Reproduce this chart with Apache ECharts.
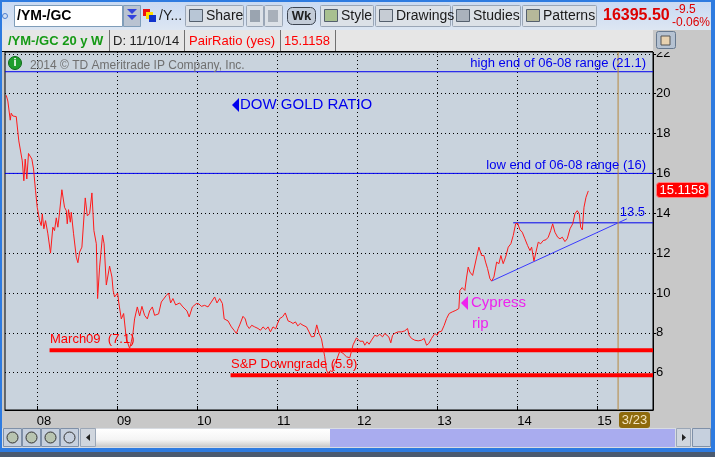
<!DOCTYPE html>
<html>
<head>
<meta charset="utf-8">
<title>/YM-/GC Dow Gold Ratio</title>
<script src="https://cdn.jsdelivr.net/npm/echarts@6/dist/echarts.min.js"></script>
<style>
  html, body { margin: 0; padding: 0; background: #c8c8c8; overflow: hidden; }
  #main { width: 715px; height: 457px; }
</style>
</head>
<body>
<div id="main"></div>
<script>
// weekly /YM / /GC pair ratio
var weeks = [
  2007.618, 2007.638, 2007.668, 2007.680, 2007.700, 2007.721, 2007.743, 2007.763, 2007.775, 2007.796,
  2007.818, 2007.838, 2007.855, 2007.875, 2007.896, 2007.918, 2007.938, 2007.959, 2007.984, 2008.005,
  2008.034, 2008.055, 2008.068, 2008.088, 2008.109, 2008.138, 2008.171, 2008.200, 2008.221, 2008.243,
  2008.263, 2008.284, 2008.313, 2008.346, 2008.368, 2008.380, 2008.396, 2008.418, 2008.430, 2008.459,
  2008.493, 2008.513, 2008.534, 2008.563, 2008.605, 2008.630, 2008.659, 2008.688, 2008.713, 2008.743,
  2008.759, 2008.784, 2008.821, 2008.840, 2008.868, 2008.909, 2008.938, 2008.953, 2008.971, 2009.009,
  2009.028, 2009.055, 2009.084, 2009.118, 2009.159, 2009.180, 2009.200, 2009.221, 2009.255, 2009.284,
  2009.313, 2009.346, 2009.380, 2009.409, 2009.443, 2009.471, 2009.521, 2009.555, 2009.618, 2009.646,
  2009.671, 2009.700, 2009.734, 2009.784, 2009.825, 2009.875, 2009.903, 2009.943, 2009.993, 2010.025,
  2010.055, 2010.096, 2010.138, 2010.180, 2010.221, 2010.250, 2010.284, 2010.318, 2010.340, 2010.388,
  2010.430, 2010.463, 2010.493, 2010.515, 2010.534, 2010.575, 2010.603, 2010.625, 2010.653, 2010.684,
  2010.721, 2010.763, 2010.793, 2010.825, 2010.859, 2010.888, 2010.918, 2010.950, 2010.984, 2011.005,
  2011.034, 2011.068, 2011.103, 2011.138, 2011.168, 2011.200, 2011.230, 2011.259, 2011.290, 2011.325,
  2011.368, 2011.400, 2011.430, 2011.465, 2011.496, 2011.525, 2011.555, 2011.596, 2011.618, 2011.638,
  2011.665, 2011.693, 2011.715, 2011.743, 2011.784, 2011.825, 2011.868, 2011.909, 2011.950, 2011.993,
  2012.034, 2012.075, 2012.096, 2012.125, 2012.150, 2012.180, 2012.221, 2012.250, 2012.284, 2012.318,
  2012.346, 2012.368, 2012.396, 2012.421, 2012.443, 2012.471, 2012.513, 2012.555, 2012.596, 2012.630,
  2012.650, 2012.680, 2012.721, 2012.763, 2012.805, 2012.838, 2012.868, 2012.896, 2012.930, 2012.971,
  2013.000, 2013.021, 2013.055, 2013.088, 2013.118, 2013.150, 2013.188, 2013.234, 2013.271, 2013.284,
  2013.313, 2013.346, 2013.368, 2013.388, 2013.409, 2013.443, 2013.463, 2013.493, 2013.521, 2013.555,
  2013.584, 2013.605, 2013.630, 2013.659, 2013.680, 2013.709, 2013.743, 2013.771, 2013.796, 2013.825,
  2013.855, 2013.888, 2013.921, 2013.950, 2013.980, 2014.005, 2014.034, 2014.063, 2014.096, 2014.130,
  2014.159, 2014.180, 2014.209, 2014.234, 2014.263, 2014.293, 2014.325, 2014.359, 2014.388, 2014.418,
  2014.443, 2014.471, 2014.505, 2014.534, 2014.563, 2014.596, 2014.625, 2014.659, 2014.693, 2014.721,
  2014.750, 2014.775, 2014.793, 2014.813, 2014.834, 2014.859, 2014.888
];
var ratio = [
  19.92, 19.63, 18.67, 19.02, 18.88, 18.93, 18.85, 18.82, 17.63, 17.55,
  16.63, 15.63, 16.72, 15.72, 17.00, 17.05, 16.72, 16.22, 15.13, 14.30,
  13.63, 13.38, 13.97, 13.22, 13.63, 12.97, 12.00, 13.30, 13.13, 13.77,
  13.30, 14.05, 15.18, 14.30, 14.13, 13.47, 14.18, 13.55, 14.05, 12.97,
  11.80, 11.52, 12.05, 12.30, 14.77, 13.88, 13.97, 15.02, 13.13, 12.47,
  9.72, 11.30, 12.90, 12.47, 10.40, 11.35, 10.80, 10.13, 9.80, 10.00,
  9.40, 8.70, 8.97, 7.70, 7.22, 7.55, 7.95, 8.70, 9.30, 8.85,
  9.33, 8.88, 8.70, 9.10, 9.30, 8.88, 8.95, 9.55, 9.88, 10.00,
  9.50, 9.72, 9.40, 9.50, 9.30, 9.10, 8.80, 9.30, 9.47, 9.45,
  9.33, 9.38, 9.30, 9.55, 9.80, 9.50, 9.72, 9.47, 8.70, 8.60,
  8.30, 8.13, 7.97, 8.22, 8.40, 8.83, 8.70, 8.38, 8.22, 8.38,
  8.30, 8.22, 8.13, 8.30, 8.17, 8.30, 8.05, 8.30, 8.20, 8.45,
  8.72, 8.80, 9.00, 8.60, 8.55, 8.47, 8.55, 8.35, 8.47, 8.38,
  8.30, 8.05, 7.80, 7.82, 8.40, 7.97, 7.70, 6.80, 6.13, 5.97,
  6.10, 6.05, 6.40, 6.63, 7.08, 6.97, 6.80, 6.75, 7.40, 7.75,
  7.58, 7.58, 7.38, 7.55, 7.43, 7.63, 7.88, 7.83, 7.93, 7.80,
  7.97, 8.05, 7.80, 7.50, 7.88, 7.98, 8.05, 8.05, 8.10, 8.22,
  7.88, 7.72, 7.63, 7.60, 7.63, 7.72, 7.38, 7.47, 7.72, 7.97,
  7.88, 8.05, 8.08, 8.38, 8.72, 8.97, 9.05, 9.13, 9.22, 10.13,
  10.27, 10.13, 10.80, 11.30, 11.05, 10.88, 10.80, 11.80, 12.30, 11.88,
  11.88, 11.55, 11.22, 10.72, 10.60, 10.80, 11.55, 11.47, 11.88, 11.47,
  11.80, 12.30, 12.47, 12.88, 13.47, 13.50, 13.17, 13.05, 12.72, 12.38,
  12.13, 12.30, 11.60, 12.05, 12.55, 12.47, 12.63, 12.67, 12.80, 13.13,
  13.47, 13.05, 12.80, 12.72, 12.80, 12.58, 12.72, 13.22, 13.47, 13.97,
  14.13, 13.97, 13.30, 13.17, 14.30, 14.80, 15.12
];

var yearTicks = [2008, 2009, 2010, 2011, 2012, 2013, 2014, 2015];
var yearLabels = ['08', '09', '10', '11', '12', '13', '14', '15'];
var ratioTicks = [6, 8, 10, 12, 14, 16, 18, 20, 22];

var xMin = 2007.6025, xMax = 2015.696;
var yMin = 4.13, yMax = 22.09;

// drawn levels
var highEnd = [[xMin, 21.1], [xMax, 21.1]];
var lowEnd = [[xMin, 16], [xMax, 16]];
var resist = [[2013.95, 13.52], [xMax, 13.52]];
var trend = [[2013.68, 10.6], [2015.37, 13.72]];
var march09 = [[2008.159, 7.13], [xMax, 7.13]];
var spDown = [[2010.42, 5.87], [xMax, 5.87]];
var cursorDate = 2015.26;

var FONT = '"Liberation Sans", Arial, sans-serif';

var chart = echarts.init(document.getElementById('main'), null, { renderer: 'canvas' });

var g = [];
function rect(x, y, w, h, fill, stroke, r) {
  g.push({ type: 'rect', silent: true, z: 100, shape: { x: x, y: y, width: w, height: h, r: r || 0 },
    style: { fill: fill, stroke: stroke || null, lineWidth: 1 } });
}
function text(x, y, s, fill, size, weight, align) {
  g.push({ type: 'text', silent: true, z: 101, x: x, y: y,
    style: { text: s, fill: fill, font: (weight || 'normal') + ' ' + size + 'px ' + FONT,
      textAlign: align || 'left', textVerticalAlign: 'middle', align: align || 'left', verticalAlign: 'middle' } });
}
function poly(pts, fill) {
  g.push({ type: 'polygon', silent: true, z: 101, shape: { points: pts }, style: { fill: fill } });
}
function btn(x, w, label, iconColor) {
  rect(x + 0.5, 5.5, w, 21, '#dce1e7', '#9aa6b6', 1);
  rect(x + 4.5, 9.5, 13, 12, iconColor, '#55606e');
  text(x + 21, 16, label, '#1a1a1a', 14);
}

// toolbar
g.push({ type: 'rect', silent: true, z: 100, shape: { x: 0, y: 0, width: 715, height: 30 },
  style: { fill: new echarts.graphic.LinearGradient(0, 0, 0, 1, [
    { offset: 0, color: '#c7d9f3' }, { offset: 1, color: '#dde6f2' }]) } });
rect(0, 0, 715, 2, '#2e7be0');
g.push({ type: 'circle', silent: true, z: 101, shape: { cx: 5, cy: 16, r: 2.5 }, style: { fill: 'none', stroke: '#4a7ed0' } });
rect(14.5, 5.5, 108, 21, '#ffffff', '#7f9db9');
text(17, 16, '/YM-/GC', '#000', 14, 'bold');
rect(123.5, 5.5, 17, 21, '#b9c3d1', '#7f9db9');
poly([[127, 9], [137, 9], [132, 14]], '#3344dd');
poly([[127, 15], [137, 15], [132, 20]], '#3344dd');
rect(143, 9, 7, 7, '#ee1111');
rect(146, 12, 7, 7, '#ffdd00');
rect(149, 15, 7, 7, '#1133cc');
text(159, 16, '/Y...', '#1a1a1a', 14);
btn(185, 58, 'Share', '#b8c6d6');
rect(246.5, 5.5, 17, 21, '#dce1e7', '#9aa6b6', 1);
rect(264.5, 5.5, 18, 21, '#dce1e7', '#9aa6b6', 1);
rect(250, 10, 10, 12, '#9aa4b0');
rect(268, 10, 10, 12, '#a8b0ba');
rect(287.5, 7.5, 28, 17, '#c3ccd8', '#3c4450', 5);
text(301.5, 16, 'Wk', '#222', 13, 'bold', 'center');
btn(320, 53, 'Style', '#a8c090');
btn(375, 75, 'Drawings', '#c6ccd4');
btn(452, 68, 'Studies', '#aab2bc');
btn(522, 74, 'Patterns', '#b6b89a');
text(603, 16, '16395.50', '#dd0000', 16, 'bold');
text(675, 10, '-9.5', '#dd0000', 12);
text(672, 23, '-0.06%', '#dd0000', 12);

// header row
rect(0, 30, 653, 21, '#e6e6e6');
rect(653, 30, 58, 22, '#c8c8c8');
rect(0, 51, 653, 1, '#000');
[109, 184, 280, 335].forEach(function (x) { rect(x, 30, 1, 21, '#707070'); });
text(8, 41, '/YM-/GC 20 y W', '#169a16', 13, 'bold');
text(113, 41, 'D: 11/10/14', '#222', 13);
text(189, 41, 'PairRatio (yes)', '#ff0000', 13);
text(284, 41, '15.1158', '#ff0000', 13);
rect(656.5, 31.5, 19, 17, '#b5c2d2', '#66788e', 2);
rect(661, 36, 9, 9, '#e8d2b0', '#555');

// plot annotations
g.push({ type: 'circle', silent: true, z: 101, shape: { cx: 15, cy: 63, r: 6.5 }, style: { fill: '#1f9d2e', stroke: '#0c6a17' } });
text(15, 63, 'i', '#fff', 11, 'bold', 'center');
text(30, 66, '2014 \u00a9 TD Ameritrade IP Company, Inc.', '#707070', 12);
text(646, 63, 'high end of 06-08 range (21.1)', '#0000ee', 13, 'normal', 'right');
text(646, 165, 'low end of 06-08 range (16)', '#0000ee', 13, 'normal', 'right');
text(645, 212, '13.5', '#0000ee', 13, 'normal', 'right');
poly([[232, 105], [239, 98], [239, 112]], '#0000ee');
text(240, 105, 'DOW GOLD RATIO', '#0000ee', 15);
poly([[461, 303], [468, 296], [468, 310]], '#ee22ee');
text(471, 303, 'Cypress', '#ee22ee', 15);
text(472, 324, 'rip', '#ee22ee', 15);
text(50, 339, 'March09  (7.1)', '#ff0000', 13);
text(231, 364, 'S&P Downgrade (5.9)', '#ff0000', 13);
g.push({ type: 'rect', silent: true, z: 100, shape: { x: 656.5, y: 182.5, width: 52, height: 15, r: 3 },
  style: { fill: '#ff0000', stroke: '#ff8080', lineWidth: 1 } });
text(682.5, 190.5, '15.1158', '#ffffff', 13, 'normal', 'center');
rect(619, 412, 31, 16, '#8e6a0c', null, 3);
text(634.5, 420, '3/23', '#f4e6c0', 13, 'normal', 'center');

// scroll bar row
rect(2, 428, 709, 20, '#d8dce2');
[3, 22, 41, 60].forEach(function (x, i) {
  rect(x + 0.5, 428.5, 18, 18, '#c6d0de', '#7f90a8');
  g.push({ type: 'circle', silent: true, z: 101, shape: { cx: x + 9.5, cy: 437.5, r: 5.5 },
    style: { fill: i === 3 ? 'none' : '#b8c4b0', stroke: '#333', lineWidth: 1 } });
});
rect(80.5, 428.5, 15, 18, '#d0d6de', '#9aa6b6');
poly([[86, 437.5], [90, 434], [90, 441]], '#222');
g.push({ type: 'rect', silent: true, z: 100, shape: { x: 96, y: 429, width: 234, height: 18 },
  style: { fill: new echarts.graphic.LinearGradient(0, 0, 0, 1, [
    { offset: 0, color: '#ffffff' }, { offset: 0.6, color: '#f4f4f4' }, { offset: 1, color: '#c8c8c8' }]) } });
rect(330, 429, 345, 18, '#a9acef');
rect(676.5, 428.5, 14, 18, '#d0d6de', '#9aa6b6');
poly([[686, 437.5], [682, 434], [682, 441]], '#222');
rect(692.5, 428.5, 18, 18, '#c6d0de', '#7f90a8');

// frame
rect(0, 0, 2, 450, '#2e7be0');
rect(711, 0, 4, 450, '#2e7be0');
rect(0, 448, 715, 4, '#2e7be0');
rect(0, 452, 715, 5, '#4a5a70');

function pairs(xs, ys) {
  return xs.map(function (x, i) { return [x, ys[i]]; });
}
function level(name, data, color, width) {
  return { name: name, type: 'line', data: data, symbol: 'none', silent: true,
    lineStyle: { color: color, width: width }, z: 3 };
}

var option = {
  animation: false,
  backgroundColor: '#c8c8c8',
  grid: { left: 5, right: 62, top: 52, bottom: 47, show: true,
    backgroundColor: '#c9d3dd', borderColor: '#000', borderWidth: 1 },
  xAxis: {
    type: 'value', min: xMin, max: xMax,
    axisLine: { show: true, lineStyle: { color: '#000' } },
    axisTick: { show: true, inside: true, length: 4, customValues: yearTicks, lineStyle: { color: '#000' } },
    axisLabel: { customValues: yearTicks, color: '#000', fontSize: 13, fontFamily: FONT, align: 'left', margin: 5,
      formatter: function (v) { return yearLabels[yearTicks.indexOf(Math.round(v))]; } },
    splitLine: { show: true, lineStyle: { color: '#000', width: 1, type: [1, 3] } }
  },
  yAxis: {
    type: 'value', position: 'right', min: yMin, max: yMax,
    axisLine: { show: true, lineStyle: { color: '#000' } },
    axisTick: { show: true, length: 3, customValues: ratioTicks, lineStyle: { color: '#000' } },
    axisLabel: { customValues: ratioTicks, color: '#000', fontSize: 13, fontFamily: FONT, margin: 3 },
    splitLine: { show: true, lineStyle: { color: '#000', width: 1, type: [1, 3] } }
  },
  series: [
    level('high end', highEnd, '#0000ee', 1),
    level('low end', lowEnd, '#0000ee', 1),
    level('13.5', resist, '#0000ee', 1),
    level('trend', trend, '#3a3aff', 1),
    level('cursor', [[cursorDate, yMin], [cursorDate, yMax]], '#b8893e', 1),
    {
      name: 'PairRatio', type: 'line', data: pairs(weeks, ratio), symbol: 'none',
      lineStyle: { color: '#ff1a1a', width: 1 }, z: 4
    },
    level('March09', march09, '#ff0000', 4),
    level('S&P Downgrade', spDown, '#ff0000', 4)
  ],
  graphic: { elements: g }
};
chart.setOption(option);
</script>
</body>
</html>
